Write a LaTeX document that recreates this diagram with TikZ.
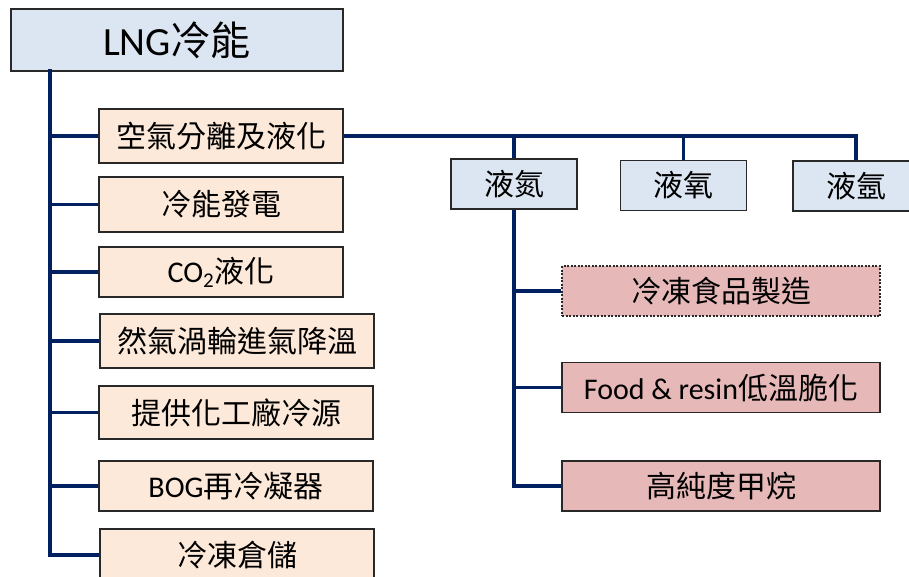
\documentclass[tikz,border=0pt]{standalone}
\usepackage{fontspec}
\setmainfont{Carlito}
\newfontfamily\cjk[Scale=1.0]{Noto Sans CJK TC}
\definecolor{navy}{RGB}{0,32,96}
\definecolor{bluefill}{RGB}{220,230,242}
\definecolor{orangefill}{RGB}{253,233,217}
\definecolor{pinkfill}{RGB}{230,185,184}
\definecolor{boxline}{RGB}{40,40,40}
\tikzset{
  basebox/.style={draw=boxline, line width=1.2pt, inner sep=0pt, align=center,
    font=\fontsize{30}{34}\selectfont},
  mainbox/.style={basebox, fill=bluefill, minimum width=332pt, minimum height=62pt,
    font=\fontsize{40}{44}\selectfont},
  obox/.style={basebox, fill=orangefill, minimum height=53pt},
  bbox/.style={basebox, fill=bluefill, minimum width=126pt, minimum height=50pt},
  pbox/.style={basebox, fill=pinkfill, minimum width=318pt, minimum height=50pt},
  conn/.style={draw=navy, line width=3.5pt, line cap=butt},
}
\begin{document}
\begin{tikzpicture}[x=1pt,y=-1pt]
\useasboundingbox (0,0) rectangle (909,576);
\coordinate (ttop) at (50,71);
\coordinate (tbot) at (50,555);
\node[mainbox] (main) at (177,40) {LNG{\cjk 冷能}};
\node[obox, minimum width=244pt, minimum height=54pt] (a1) at (221,136) {\cjk 空氣分離及液化};
\node[obox, minimum width=244pt, minimum height=55pt] (a2) at (221,204.5) {\cjk 冷能發電};
\node[obox, minimum width=244pt, minimum height=50pt] (a3) at (221,272) {CO\textsubscript{2}{\cjk 液化}};
\node[obox, minimum width=274pt, minimum height=54pt] (a4) at (237,341) {\cjk 然氣渦輪進氣降溫};
\node[obox, minimum width=274pt, minimum height=53pt] (a5) at (236,412.5) {\cjk 提供化工廠冷源};
\node[obox, minimum width=274pt, minimum height=50pt] (a6) at (236,486) {BOG{\cjk 再冷凝器}};
\node[obox, minimum width=274pt, minimum height=52pt] (a7) at (237,555) {\cjk 冷凍倉儲};
\node[bbox] (n1) at (514,184) {\cjk 液氮};
\node[bbox] (n2) at (683.5,185.5) {\cjk 液氧};
\node[bbox] (n3) at (856,186) {\cjk 液氬};
\node[pbox, dash pattern=on 2pt off 1.5pt] (p1) at (721,291) {\cjk 冷凍食品製造};
\node[pbox] (p2) at (721,387.5) {Food \& resin{\cjk 低溫脆化}};
\node[pbox] (p3) at (721,486) {\cjk 高純度甲烷};
% trunk
\draw[conn, line cap=rect] (ttop) -- (tbot);
\foreach \b in {a1,a2,a3,a4,a5,a6,a7}
  \draw[conn] (\b.west -| ttop) -- (\b.west);
% right branch
\draw[conn] (a1.east) -- (a1.east -| n3.north) -- (n3.north);
\draw[conn] (n1.north |- a1.east) -- (n1.north);
\draw[conn] (n2.north |- a1.east) -- (n2.north);
\draw[conn] (n1.south) -- (n1.south |- p3.west) -- (p3.west);
\draw[conn] (p1.west -| n1.south) -- (p1.west);
\draw[conn] (p2.west -| n1.south) -- (p2.west);
\end{tikzpicture}
\end{document}
